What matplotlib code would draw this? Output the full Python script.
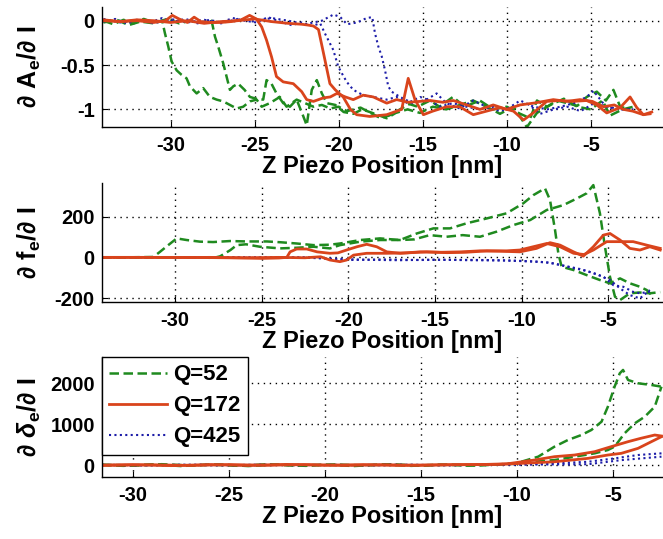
import numpy as np
import matplotlib
matplotlib.use('Agg')
import matplotlib.pyplot as plt
from matplotlib.lines import Line2D

plt.rcParams['font.family'] = ['Liberation Sans', 'DejaVu Sans']
plt.rcParams['font.weight'] = 'bold'
plt.rcParams['axes.unicode_minus'] = False
plt.rcParams['mathtext.fontset'] = 'custom'
plt.rcParams['mathtext.rm'] = 'Liberation Sans'
plt.rcParams['mathtext.it'] = 'Liberation Sans:italic'
plt.rcParams['mathtext.bf'] = 'Liberation Sans:bold'

# ---- amplitude sensitivity (two sweeps per Q) ----
amp_q52_a = [(-34.0, 0.0), (-33.4, -0.04), (-32.8, 0.01), (-32.2, -0.03), (-31.6, 0.02), (-31.0, -0.02),
             (-30.5, 0.0), (-30.34, -0.14), (-30.14, -0.29), (-29.94, -0.46), (-29.64, -0.56), (-29.35, -0.61),
             (-29.05, -0.65), (-28.85, -0.74), (-28.45, -0.82), (-28.06, -0.76), (-27.66, -0.86), (-27.26, -0.89),
             (-26.87, -0.91), (-26.47, -0.95), (-26.07, -0.99), (-25.68, -0.97), (-25.28, -0.91), (-24.88, -0.89),
             (-24.58, -0.97), (-24.1, -0.93), (-23.5, -0.86), (-23.1, -0.97), (-22.5, -0.89), (-22.0, -0.93),
             (-21.5, -0.97), (-21.0, -0.95), (-20.5, -0.99), (-20.0, -0.97), (-19.5, -1.02), (-18.7, -0.98),
             (-18.0, -1.05), (-17.5, -1.1), (-17.0, -1.07), (-16.35, -1.0), (-15.8, -0.94), (-15.3, -0.97),
             (-14.56, -0.9), (-14.0, -0.97), (-13.2, -0.86), (-12.5, -0.97), (-11.6, -0.9), (-10.8, -1.0),
             (-10.0, -0.97), (-9.2, -1.05), (-8.6, -1.1), (-8.2, -0.9), (-7.6, -0.97), (-7.0, -0.9),
             (-6.4, -0.93), (-5.8, -0.96), (-5.24, -0.86), (-4.64, -0.8), (-4.1, -0.9), (-3.65, -0.78),
             (-3.25, -0.97), (-2.66, -1.0)]
amp_q52_b = [(-34.0, -0.02), (-33.2, 0.01), (-32.5, -0.05), (-31.8, -0.01), (-31.0, -0.03), (-30.2, 0.02),
             (-29.5, -0.03), (-28.8, 0.0), (-28.2, -0.02), (-27.56, 0.0), (-27.36, -0.18), (-27.17, -0.29),
             (-26.87, -0.48), (-26.67, -0.63), (-26.47, -0.78), (-26.27, -0.74), (-25.98, -0.71), (-25.6, -0.78),
             (-25.28, -0.86), (-24.9, -0.88), (-24.49, -0.89), (-24.29, -0.67), (-24.0, -0.71), (-23.7, -0.82),
             (-23.3, -0.93), (-22.9, -0.97), (-22.5, -0.89), (-22.1, -1.08), (-21.9, -1.18), (-21.6, -0.78),
             (-21.3, -0.67), (-21.0, -0.82), (-20.7, -0.93), (-20.2, -0.95), (-19.7, -1.03), (-19.13, -1.05),
             (-18.6, -1.0), (-18.0, -1.04), (-17.14, -1.1), (-16.6, -1.04), (-15.9, -1.0), (-15.16, -1.04),
             (-14.4, -0.97), (-13.6, -1.0), (-12.78, -0.95), (-12.0, -0.9), (-11.2, -0.97), (-10.4, -1.05),
             (-9.6, -0.97), (-8.8, -1.2), (-8.2, -1.04), (-7.4, -0.95), (-6.6, -0.88), (-5.8, -0.97),
             (-5.0, -1.0), (-4.3, -0.9), (-3.85, -1.07), (-3.1, -1.0), (-2.46, -0.97)]
amp_q172_a = [(-34.0, 0.0), (-33.0, -0.01), (-32.0, 0.0), (-31.0, -0.02), (-30.3, 0.0), (-29.9, 0.06),
              (-29.5, 0.02), (-29.0, -0.02), (-28.6, 0.04), (-28.2, -0.01), (-27.6, -0.02), (-27.0, -0.02),
              (-26.4, -0.01), (-25.8, 0.01), (-25.3, 0.06), (-24.9, 0.02), (-24.58, -0.07), (-24.29, -0.22),
              (-23.99, -0.41), (-23.7, -0.63), (-23.3, -0.69), (-22.7, -0.71), (-22.2, -0.8), (-21.9, -0.89),
              (-21.5, -0.91), (-20.9, -0.87), (-20.5, -0.86), (-20.1, -0.82), (-19.6, -0.86), (-19.13, -0.89),
              (-18.54, -0.84), (-17.94, -0.86), (-17.14, -0.93), (-16.55, -0.89), (-15.86, -0.92), (-15.16, -0.91),
              (-14.56, -0.9), (-13.8, -0.92), (-13.18, -0.9), (-12.38, -0.95), (-11.59, -1.0), (-10.8, -0.95),
              (-10.0, -1.0), (-9.21, -0.95), (-8.42, -0.93), (-7.8, -0.91), (-7.23, -0.89), (-6.43, -0.91),
              (-5.64, -0.89), (-4.9, -0.91), (-4.25, -0.97), (-3.6, -0.95), (-3.06, -1.0), (-2.5, -1.02),
              (-1.87, -1.06), (-1.47, -1.05)]
amp_q172_b = [(-34.0, 0.01), (-33.0, -0.01), (-32.0, 0.01), (-31.0, 0.0), (-30.0, -0.02), (-29.0, 0.0),
              (-28.0, -0.03), (-27.0, -0.01), (-26.0, 0.0), (-25.0, 0.02), (-24.0, -0.01), (-23.0, -0.03),
              (-22.2, -0.04), (-21.8, -0.05), (-21.5, -0.06), (-21.2, -0.1), (-20.82, -0.44), (-20.52, -0.71),
              (-20.2, -0.78), (-19.73, -0.86), (-19.3, -1.0), (-18.93, -1.06), (-18.14, -1.08), (-17.14, -1.06),
              (-16.25, -1.0), (-15.86, -0.65), (-15.46, -0.89), (-14.96, -1.06), (-14.4, -1.02), (-13.57, -0.97),
              (-12.8, -0.97), (-11.99, -1.06), (-11.2, -1.02), (-10.4, -0.98), (-9.6, -1.02), (-9.0, -1.12),
              (-8.42, -1.04), (-7.62, -0.91), (-6.83, -0.9), (-6.04, -0.91), (-5.24, -0.9), (-4.64, -0.95),
              (-4.05, -1.04), (-3.25, -0.98), (-2.66, -0.86), (-2.26, -0.98), (-1.87, -1.06), (-1.37, -1.03)]
amp_q425_a = [(-34.0, -0.01), (-33.3, 0.02), (-32.6, -0.03), (-31.9, 0.01), (-31.2, -0.02), (-30.5, 0.03),
              (-29.8, -0.01), (-29.1, 0.02), (-28.4, -0.03), (-27.7, 0.01), (-27.0, -0.02), (-26.3, 0.03),
              (-25.6, 0.0), (-24.9, -0.02), (-24.2, 0.04), (-23.5, -0.01), (-22.8, -0.05), (-22.2, -0.02),
              (-21.6, -0.06), (-21.1, -0.03), (-20.8, -0.15), (-20.32, -0.33), (-20.02, -0.52), (-19.82, -0.59),
              (-19.52, -0.69), (-19.13, -0.78), (-18.54, -0.84), (-17.94, -0.86), (-17.14, -0.89), (-16.55, -0.86),
              (-15.9, -0.93), (-15.16, -0.86), (-14.56, -0.9), (-14.0, -0.97), (-13.2, -0.93), (-12.4, -0.97),
              (-11.6, -1.0), (-10.8, -0.97), (-10.0, -1.0), (-9.2, -0.9), (-8.4, -0.97), (-7.6, -1.0),
              (-6.8, -0.97), (-6.0, -0.93), (-5.24, -0.86), (-4.84, -0.79), (-4.1, -0.97), (-3.3, -1.0),
              (-2.46, -1.0)]
amp_q425_b = [(-34.0, 0.02), (-33.0, -0.02), (-32.0, 0.01), (-31.0, -0.03), (-30.0, 0.02), (-29.0, -0.02),
              (-28.0, 0.01), (-27.0, -0.03), (-26.0, 0.02), (-25.0, -0.01), (-24.0, 0.03), (-23.0, 0.0),
              (-22.0, -0.04), (-21.0, 0.0), (-20.3, 0.07), (-19.9, 0.04), (-19.5, -0.04), (-18.9, -0.02),
              (-18.33, 0.03), (-18.0, 0.04), (-17.84, -0.14), (-17.64, -0.29), (-17.44, -0.4), (-17.24, -0.56),
              (-17.05, -0.74), (-16.85, -0.8), (-16.35, -0.86), (-15.6, -0.93), (-14.76, -0.89), (-14.17, -0.82),
              (-13.6, -0.93), (-12.8, -0.99), (-12.0, -0.9), (-11.2, -0.97), (-10.4, -1.02), (-9.6, -0.97),
              (-8.8, -0.93), (-8.0, -1.05), (-7.2, -1.0), (-6.4, -0.97), (-5.6, -1.02), (-4.8, -0.93),
              (-4.0, -0.97), (-3.2, -1.0), (-2.46, -1.0)]

# ---- frequency shift sensitivity ----
frq_q52_a = [(-34.2, 0), (-33.0, 0), (-32.0, 1), (-31.25, 2), (-30.87, 27), (-30.39, 60), (-29.9, 93),
             (-29.33, 85), (-28.56, 77), (-27.8, 75), (-26.83, 80), (-25.86, 78), (-24.7, 78), (-23.9, 74),
             (-22.98, 68), (-22.0, 60), (-21.06, 62), (-20.48, 68), (-19.3, 85), (-18.17, 93), (-17.02, 85),
             (-16.05, 117), (-15.09, 142), (-14.13, 142), (-13.17, 167), (-12.0, 191), (-10.86, 216),
             (-9.9, 265), (-9.32, 305), (-8.65, 338), (-8.36, 281), (-8.07, 134), (-7.88, 20), (-7.69, -46),
             (-7.0, -62), (-6.24, -87), (-5.48, -111), (-4.9, -127), (-4.32, -103), (-3.75, -127),
             (-3.17, -144), (-2.78, -160), (-2.4, -193)]
frq_q52_b = [(-34.2, 0), (-32.0, 0), (-30.0, -1), (-28.5, 0), (-27.8, -3), (-27.4, 5), (-26.8, 36),
             (-26.44, 60), (-25.9, 64), (-25.1, 52), (-23.94, 44), (-23.0, 47), (-22.0, 52), (-21.06, 44),
             (-20.48, 60), (-19.3, 77), (-18.17, 85), (-17.0, 85), (-16.2, 88), (-15.3, 109), (-14.33, 101),
             (-13.4, 109), (-12.4, 101), (-11.44, 126), (-10.48, 158), (-9.5, 183), (-8.55, 232), (-7.59, 256),
             (-6.8, 289), (-6.24, 314), (-5.86, 354), (-5.48, 216), (-5.19, 52), (-4.9, -95), (-4.61, -193),
             (-4.32, -209), (-3.75, -176), (-3.2, -172), (-2.6, -176), (-2.0, -170)]
frq_q172_a = [(-34.2, 0), (-32.0, 0), (-30.0, 0), (-28.0, -1), (-26.0, -3), (-25.0, -5), (-24.0, -3),
              (-23.55, 0), (-23.36, 27), (-22.98, 41), (-22.4, 41), (-21.8, 27), (-21.06, 20), (-20.6, 22),
              (-20.1, 36), (-19.5, 52), (-18.94, 64), (-18.36, 52), (-17.78, 27), (-17.0, 20), (-15.86, 27),
              (-14.6, 25), (-13.5, 27), (-12.4, 32), (-11.2, 30), (-10.1, 27), (-9.14, 44), (-8.36, 72),
              (-7.78, 60), (-7.0, 27), (-6.44, 6), (-5.86, 52), (-5.28, 109), (-4.9, 117), (-4.32, 85),
              (-3.75, 44), (-3.17, 36), (-2.6, 52), (-2.0, 36)]
frq_q172_b = [(-34.2, 0), (-32.0, 0), (-30.0, -1), (-28.0, 0), (-26.0, -2), (-24.0, 0), (-22.5, -2),
              (-21.6, 3), (-21.06, -13), (-20.48, -21), (-20.1, -13), (-19.7, 11), (-18.94, 20), (-17.78, 20),
              (-16.6, 22), (-15.48, 27), (-14.3, 23), (-13.2, 25), (-12.0, 32), (-10.86, 32), (-10.1, 36),
              (-9.33, 52), (-8.55, 68), (-7.78, 52), (-7.0, 20), (-6.4, 14), (-5.86, 36), (-5.09, 77),
              (-4.32, 77), (-3.56, 77), (-2.78, 60), (-2.0, 44)]
frq_q425_a = [(-34.2, 0), (-31.0, 0), (-28.0, 1), (-25.0, 0), (-22.5, -1), (-21.6, -5), (-20.0, -13),
              (-18.0, -10), (-16.0, -13), (-14.0, -12), (-12.0, -13), (-10.1, -17), (-9.0, -21), (-8.17, -29),
              (-7.2, -49), (-6.24, -66), (-5.28, -95), (-4.71, -136), (-4.13, -144), (-3.56, -169),
              (-3.17, -176), (-2.6, -168)]
frq_q425_b = [(-34.2, 0), (-31.0, 1), (-28.0, 0), (-25.0, -1), (-22.0, 0), (-21.0, -6), (-19.0, -12),
              (-17.0, -14), (-15.0, -11), (-13.0, -14), (-11.0, -15), (-9.5, -20), (-8.5, -25), (-7.78, -37),
              (-6.63, -57), (-5.67, -82), (-4.9, -111), (-4.32, -152), (-3.75, -185), (-3.17, -201),
              (-2.6, -160)]

# ---- phase sensitivity ----
phs_q52_a = [(-31.6, 0), (-30.5, -20), (-29.0, 15), (-27.5, -25), (-26.0, 10), (-24.5, -20), (-23.0, 20),
             (-21.5, -15), (-20.0, 10), (-18.5, -25), (-17.0, 15), (-15.5, -20), (-14.0, 10), (-12.5, -15),
             (-11.0, 15), (-10.1, 30), (-9.78, 80), (-8.9, 204), (-8.05, 449), (-7.35, 612), (-6.65, 734),
             (-6.13, 857), (-5.6, 1060), (-5.27, 1427), (-4.92, 1917), (-4.65, 2244), (-4.48, 2326),
             (-4.22, 2081), (-3.7, 2000), (-3.0, 1958), (-2.48, 1917)]
phs_q52_b = [(-31.6, 10), (-30.0, -15), (-28.5, 20), (-27.0, -10), (-25.5, 15), (-24.0, -25), (-22.5, 10),
             (-21.0, -20), (-19.5, 15), (-18.0, -10), (-16.5, 20), (-15.0, -15), (-13.5, 10), (-12.0, -10),
             (-10.8, 20), (-10.1, 41), (-9.1, 80), (-8.05, 122), (-7.0, 204), (-5.96, 286), (-5.27, 367),
             (-4.92, 449), (-4.4, 776), (-3.87, 1020), (-3.35, 1182), (-2.83, 1427), (-2.48, 1917)]
phs_q172_a = [(-31.6, 0), (-30.0, 10), (-28.0, -15), (-26.0, 10), (-24.0, -10), (-22.0, 15), (-20.0, -5),
              (-18.0, 10), (-16.0, -10), (-14.0, 5), (-12.0, 10), (-10.5, 30), (-9.1, 122), (-8.05, 204),
              (-7.0, 245), (-5.96, 326), (-5.1, 449), (-4.22, 571), (-3.56, 653), (-2.83, 734), (-2.48, 710)]
phs_q172_b = [(-31.6, -10), (-29.0, 5), (-27.0, -10), (-25.0, 10), (-23.0, -5), (-21.0, 10), (-19.0, -10),
              (-17.0, 5), (-15.0, -5), (-13.0, 10), (-11.0, 15), (-9.78, 41), (-8.05, 80), (-6.3, 163),
              (-5.27, 245), (-4.57, 286), (-3.7, 408), (-2.83, 612), (-2.48, 693)]
phs_q425_a = [(-31.6, 0), (-29.5, -10), (-27.5, 5), (-25.5, -10), (-23.5, 10), (-21.5, -5), (-19.5, 5),
              (-17.5, -10), (-15.5, 5), (-13.5, -5), (-11.5, 10), (-9.5, 20), (-8.05, 41), (-6.3, 80),
              (-4.92, 163), (-3.7, 245), (-2.48, 286)]
phs_q425_b = [(-31.6, 5), (-29.0, -5), (-26.5, 10), (-24.0, -10), (-21.5, 5), (-19.0, -5), (-16.5, 10),
              (-14.0, -5), (-11.5, 5), (-9.5, 10), (-6.3, 20), (-4.57, 120), (-2.48, 204)]

q_labels = ['Q=52', 'Q=172', 'Q=425']
x_ticks = [-30, -25, -20, -15, -10, -5]

GREEN = '#1f8a1f'
RED = '#d9441c'
BLUE = '#1c1ca8'
styles = {
    'Q=52': dict(color=GREEN, linestyle=(0, (3.8, 1.8)), linewidth=1.8),
    'Q=172': dict(color=RED, linestyle='-', linewidth=2.0),
    'Q=425': dict(color=BLUE, linestyle=(0, (1, 1.6)), linewidth=1.5),
}
draw_order = ['Q=52', 'Q=425', 'Q=172']

panels = [
    dict(curves={'Q=52': (amp_q52_a, amp_q52_b), 'Q=172': (amp_q172_a, amp_q172_b),
                 'Q=425': (amp_q425_a, amp_q425_b)},
         pos=[0.1534, 0.765, 0.8466, 0.2226], xlim=(-34.1, -0.7), ylim=(-1.195, 0.158),
         yticks=[-1, -0.5, 0], yticklabels=['-1', '-0.5', '0'],
         ylabel=r'$\partial\ \mathbf{A}_{\mathbf{e}}/\partial\ \mathbf{I}$'),
    dict(curves={'Q=52': (frq_q52_a, frq_q52_b), 'Q=172': (frq_q172_a, frq_q172_b),
                 'Q=425': (frq_q425_a, frq_q425_b)},
         pos=[0.1534, 0.4403, 0.8466, 0.2197], xlim=(-34.23, -1.84), ylim=(-217, 363),
         yticks=[-200, 0, 200], yticklabels=['-200', '0', '200'],
         ylabel=r'$\partial\ \mathbf{f}_{\mathbf{e}}/\partial\ \mathbf{I}$'),
    dict(curves={'Q=52': (phs_q52_a, phs_q52_b), 'Q=172': (phs_q172_a, phs_q172_b),
                 'Q=425': (phs_q425_a, phs_q425_b)},
         pos=[0.1534, 0.1145, 0.8466, 0.2237], xlim=(-31.62, -2.4), ylim=(-300, 2650),
         yticks=[0, 1000, 2000], yticklabels=['0', '1000', '2000'],
         ylabel=r'$\partial\ \delta_{\mathbf{e}}/\partial\ \mathbf{I}$'),
]

fig = plt.figure(figsize=(6.63, 5.39), dpi=100)
axes = []
for p in panels:
    ax = fig.add_axes(p['pos'])
    for q in draw_order:
        for sweep in p['curves'][q]:
            xy = np.array(sweep, dtype=float)
            ax.plot(xy[:, 0], xy[:, 1], **styles[q])
    ax.set_xlim(*p['xlim'])
    ax.set_ylim(*p['ylim'])
    ax.set_xticks(x_ticks)
    ax.set_xticklabels([str(t) for t in x_ticks])
    ax.set_yticks(p['yticks'])
    ax.set_yticklabels(p['yticklabels'])
    ax.grid(True, color='black', linestyle=(0, (1, 3.3)), linewidth=1.0)
    ax.spines['top'].set_visible(False)
    ax.spines['right'].set_visible(False)
    for s in ('left', 'bottom'):
        ax.spines[s].set_linewidth(1.0)
    ax.tick_params(axis='both', direction='in', length=4, width=0.8, labelsize=14.5)
    ax.tick_params(axis='x', pad=6.5)
    ax.tick_params(axis='y', pad=5)
    for lab in ax.get_xticklabels() + ax.get_yticklabels():
        lab.set_fontweight('bold')
    ax.set_xlabel('Z Piezo Position [nm]', fontsize=17, fontweight='bold', labelpad=0)
    ax.set_ylabel(p['ylabel'], fontsize=18)
    ax.yaxis.set_label_coords(-0.105, 0.5)
    axes.append(ax)

handles = [Line2D([], [], **styles[q]) for q in q_labels]
leg = axes[2].legend(handles, q_labels, loc='upper left', bbox_to_anchor=(0, 1), borderaxespad=0,
                     fancybox=False, framealpha=1, edgecolor='black', handlelength=2.6,
                     handletextpad=0.25, labelspacing=0.45, borderpad=0.35,
                     prop={'size': 16, 'weight': 'bold'})
leg.get_frame().set_linewidth(1.0)

fig.savefig('out.png', dpi=100)
